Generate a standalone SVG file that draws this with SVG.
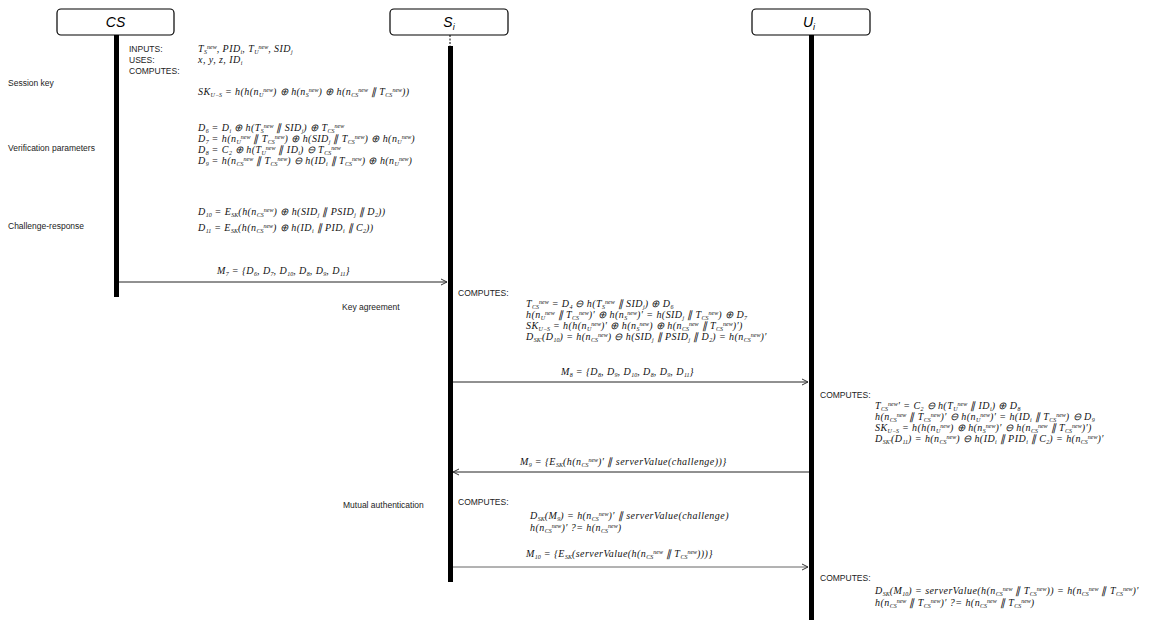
<svg xmlns="http://www.w3.org/2000/svg" width="1174" height="620" viewBox="0 0 1174 620">
<style>
.box{fill:#fff;stroke:#000;stroke-width:1.2}
.hd{font-family:"Liberation Sans",Arial,sans-serif;font-style:italic;font-size:14px;fill:#000;text-anchor:middle}
.hs{font-size:9px}
.life{stroke:#000;stroke-width:5}
.lb{font-family:"Liberation Sans",Arial,sans-serif;font-size:8.5px;fill:#222}
.m{font-family:"Liberation Serif","Times New Roman",serif;font-style:italic;font-size:10px;letter-spacing:0.45px;fill:#111}
.b{font-size:6px;baseline-shift:-2px;letter-spacing:0}
.p{font-size:6px;baseline-shift:3px;letter-spacing:0}
.msg{stroke:#222;stroke-width:1;fill:none}
.msg2{stroke:#666;stroke-width:1;fill:none}
</style>
<defs>
<marker id="ah" markerWidth="8" markerHeight="8" refX="7" refY="4" orient="auto" markerUnits="userSpaceOnUse">
<path d="M1,1 L7,4 L1,7" fill="none" stroke="#333" stroke-width="1"/>
</marker>
</defs>

<g id="node-cs">
<rect class="box" x="57" y="9" width="117" height="26" rx="4"/>
<text class="hd" x="115.5" y="27">CS</text>
<line class="life" x1="116.5" y1="35" x2="116.5" y2="297"/>
</g>
<g id="node-si">
<rect class="box" x="390" y="9" width="118" height="26" rx="4"/>
<text class="hd" x="449" y="27">S<tspan class="hs" dy="3">i</tspan></text>
<line x1="450" y1="35" x2="450" y2="46" stroke="#000" stroke-width="1" stroke-dasharray="2,1.5"/>
<line class="life" x1="450.5" y1="46" x2="450.5" y2="582"/>
</g>
<g id="node-ui">
<rect class="box" x="752" y="9" width="118" height="26" rx="4"/>
<text class="hd" x="809" y="27">U<tspan class="hs" dy="3">i</tspan></text>
<line class="life" x1="811.5" y1="35" x2="811.5" y2="620"/>
</g>

<g id="phase-labels">
<text class="lb" x="8" y="86">Session key</text>
<text class="lb" x="8" y="151">Verification parameters</text>
<text class="lb" x="8" y="229">Challenge-response</text>
<text class="lb" x="342" y="310">Key agreement</text>
<text class="lb" x="343" y="508">Mutual authentication</text>
</g>

<g id="cs-computes">
<text class="lb" x="129" y="52">INPUTS:</text>
<text class="lb" x="129" y="63">USES:</text>
<text class="lb" x="129" y="74">COMPUTES:</text>
<text class="m" x="198" y="52">T<tspan class="b">S</tspan><tspan class="p">new</tspan>, PID<tspan class="b">i</tspan>, T<tspan class="b">U</tspan><tspan class="p">new</tspan>, SID<tspan class="b">j</tspan></text>
<text class="m" x="198" y="63">x, y, z, ID<tspan class="b">i</tspan></text>
<text class="m" x="198" y="95">SK<tspan class="b">U−S</tspan> = h(h(n<tspan class="b">U</tspan><tspan class="p">new</tspan>) ⊕ h(n<tspan class="b">S</tspan><tspan class="p">new</tspan>) ⊕ h(n<tspan class="b">CS</tspan><tspan class="p">new</tspan> ∥ T<tspan class="b">CS</tspan><tspan class="p">new</tspan>))</text>
<text class="m" x="198" y="131">D<tspan class="b">6</tspan> = D<tspan class="b">i</tspan> ⊕ h(T<tspan class="b">S</tspan><tspan class="p">new</tspan> ∥ SID<tspan class="b">j</tspan>) ⊕ T<tspan class="b">CS</tspan><tspan class="p">new</tspan></text>
<text class="m" x="198" y="142">D<tspan class="b">7</tspan> = h(n<tspan class="b">U</tspan><tspan class="p">new</tspan> ∥ T<tspan class="b">CS</tspan><tspan class="p">new</tspan>) ⊕ h(SID<tspan class="b">j</tspan> ∥ T<tspan class="b">CS</tspan><tspan class="p">new</tspan>) ⊕ h(n<tspan class="b">U</tspan><tspan class="p">new</tspan>)</text>
<text class="m" x="198" y="153">D<tspan class="b">8</tspan> = C<tspan class="b">2</tspan> ⊕ h(T<tspan class="b">U</tspan><tspan class="p">new</tspan> ∥ ID<tspan class="b">i</tspan>) ⊖ T<tspan class="b">CS</tspan><tspan class="p">new</tspan></text>
<text class="m" x="198" y="164">D<tspan class="b">9</tspan> = h(n<tspan class="b">CS</tspan><tspan class="p">new</tspan> ∥ T<tspan class="b">CS</tspan><tspan class="p">new</tspan>) ⊖ h(ID<tspan class="b">i</tspan> ∥ T<tspan class="b">CS</tspan><tspan class="p">new</tspan>) ⊕ h(n<tspan class="b">U</tspan><tspan class="p">new</tspan>)</text>
<text class="m" x="198" y="215">D<tspan class="b">10</tspan> = E<tspan class="b">SK</tspan>(h(n<tspan class="b">CS</tspan><tspan class="p">new</tspan>) ⊕ h(SID<tspan class="b">j</tspan> ∥ PSID<tspan class="b">j</tspan> ∥ D<tspan class="b">2</tspan>))</text>
<text class="m" x="198" y="231">D<tspan class="b">11</tspan> = E<tspan class="b">SK</tspan>(h(n<tspan class="b">CS</tspan><tspan class="p">new</tspan>) ⊕ h(ID<tspan class="b">i</tspan> ∥ PID<tspan class="b">i</tspan> ∥ C<tspan class="b">2</tspan>))</text>
</g>

<g id="si-key-agreement">
<text class="lb" x="458" y="296">COMPUTES:</text>
<text class="m" x="526" y="307">T<tspan class="b">CS</tspan><tspan class="p">new</tspan> = D<tspan class="b">4</tspan> ⊖ h(T<tspan class="b">S</tspan><tspan class="p">new</tspan> ∥ SID<tspan class="b">j</tspan>) ⊕ D<tspan class="b">6</tspan></text>
<text class="m" x="526" y="318">h(n<tspan class="b">U</tspan><tspan class="p">new</tspan> ∥ T<tspan class="b">CS</tspan><tspan class="p">new</tspan>)′ ⊕ h(n<tspan class="b">S</tspan><tspan class="p">new</tspan>)′ = h(SID<tspan class="b">j</tspan> ∥ T<tspan class="b">CS</tspan><tspan class="p">new</tspan>) ⊕ D<tspan class="b">7</tspan></text>
<text class="m" x="526" y="329">SK<tspan class="b">U−S</tspan> = h(h(n<tspan class="b">U</tspan><tspan class="p">new</tspan>)′ ⊕ h(n<tspan class="b">S</tspan><tspan class="p">new</tspan>) ⊕ h(n<tspan class="b">CS</tspan><tspan class="p">new</tspan> ∥ T<tspan class="b">CS</tspan><tspan class="p">new</tspan>)′)</text>
<text class="m" x="526" y="340">D<tspan class="b">SK′</tspan>(D<tspan class="b">10</tspan>) = h(n<tspan class="b">CS</tspan><tspan class="p">new</tspan>) ⊖ h(SID<tspan class="b">j</tspan> ∥ PSID<tspan class="b">j</tspan> ∥ D<tspan class="b">2</tspan>) = h(n<tspan class="b">CS</tspan><tspan class="p">new</tspan>)′</text>
</g>

<g id="ui-key-agreement">
<text class="lb" x="820" y="398">COMPUTES:</text>
<text class="m" x="875" y="409">T<tspan class="b">CS</tspan><tspan class="p">new</tspan>′ = C<tspan class="b">2</tspan> ⊖ h(T<tspan class="b">U</tspan><tspan class="p">new</tspan> ∥ ID<tspan class="b">i</tspan>) ⊕ D<tspan class="b">8</tspan></text>
<text class="m" x="875" y="420">h(n<tspan class="b">CS</tspan><tspan class="p">new</tspan> ∥ T<tspan class="b">CS</tspan><tspan class="p">new</tspan>)′ ⊖ h(n<tspan class="b">U</tspan><tspan class="p">new</tspan>)′ = h(ID<tspan class="b">i</tspan> ∥ T<tspan class="b">CS</tspan><tspan class="p">new</tspan>) ⊖ D<tspan class="b">9</tspan></text>
<text class="m" x="875" y="431">SK<tspan class="b">U−S</tspan> = h(h(n<tspan class="b">U</tspan><tspan class="p">new</tspan>) ⊕ h(n<tspan class="b">S</tspan><tspan class="p">new</tspan>)′ ⊖ h(n<tspan class="b">CS</tspan><tspan class="p">new</tspan> ∥ T<tspan class="b">CS</tspan><tspan class="p">new</tspan>)′)</text>
<text class="m" x="875" y="442">D<tspan class="b">SK′</tspan>(D<tspan class="b">11</tspan>) = h(n<tspan class="b">CS</tspan><tspan class="p">new</tspan>) ⊖ h(ID<tspan class="b">i</tspan> ∥ PID<tspan class="b">i</tspan> ∥ C<tspan class="b">2</tspan>) = h(n<tspan class="b">CS</tspan><tspan class="p">new</tspan>)′</text>
</g>

<g id="si-mutual-auth">
<text class="lb" x="458" y="505">COMPUTES:</text>
<text class="m" x="530" y="519">D<tspan class="b">SK</tspan>(M<tspan class="b">9</tspan>) = h(n<tspan class="b">CS</tspan><tspan class="p">new</tspan>)′ ∥ serverValue(challenge)</text>
<text class="m" x="530" y="531">h(n<tspan class="b">CS</tspan><tspan class="p">new</tspan>)′ ?= h(n<tspan class="b">CS</tspan><tspan class="p">new</tspan>)</text>
</g>

<g id="ui-mutual-auth">
<text class="lb" x="820" y="581">COMPUTES:</text>
<text class="m" x="875" y="594">D<tspan class="b">SK</tspan>(M<tspan class="b">10</tspan>) = serverValue(h(n<tspan class="b">CS</tspan><tspan class="p">new</tspan> ∥ T<tspan class="b">CS</tspan><tspan class="p">new</tspan>)) = h(n<tspan class="b">CS</tspan><tspan class="p">new</tspan> ∥ T<tspan class="b">CS</tspan><tspan class="p">new</tspan>)′</text>
<text class="m" x="875" y="606">h(n<tspan class="b">CS</tspan><tspan class="p">new</tspan> ∥ T<tspan class="b">CS</tspan><tspan class="p">new</tspan>)′ ?= h(n<tspan class="b">CS</tspan><tspan class="p">new</tspan> ∥ T<tspan class="b">CS</tspan><tspan class="p">new</tspan>)</text>
</g>

<g id="connectors">
<line class="msg" x1="119" y1="282" x2="447" y2="282" marker-end="url(#ah)"/>
<text class="m" x="217" y="274">M<tspan class="b">7</tspan> = {D<tspan class="b">6</tspan>, D<tspan class="b">7</tspan>, D<tspan class="b">10</tspan>, D<tspan class="b">8</tspan>, D<tspan class="b">9</tspan>, D<tspan class="b">11</tspan>}</text>
<line class="msg" x1="453" y1="382" x2="808" y2="382" marker-end="url(#ah)"/>
<text class="m" x="561" y="375">M<tspan class="b">8</tspan> = {D<tspan class="b">8</tspan>, D<tspan class="b">9</tspan>, D<tspan class="b">10</tspan>, D<tspan class="b">8</tspan>, D<tspan class="b">9</tspan>, D<tspan class="b">11</tspan>}</text>
<line class="msg" x1="809" y1="472" x2="453" y2="472" marker-end="url(#ah)"/>
<text class="m" x="520" y="465">M<tspan class="b">9</tspan> = {E<tspan class="b">SK</tspan>(h(n<tspan class="b">CS</tspan><tspan class="p">new</tspan>)′ ∥ serverValue(challenge))}</text>
<line class="msg2" x1="453" y1="567" x2="808" y2="567" marker-end="url(#ah)"/>
<text class="m" x="526" y="557">M<tspan class="b">10</tspan> = {E<tspan class="b">SK</tspan>(serverValue(h(n<tspan class="b">CS</tspan><tspan class="p">new</tspan> ∥ T<tspan class="b">CS</tspan><tspan class="p">new</tspan>)))}</text>
</g>
</svg>
